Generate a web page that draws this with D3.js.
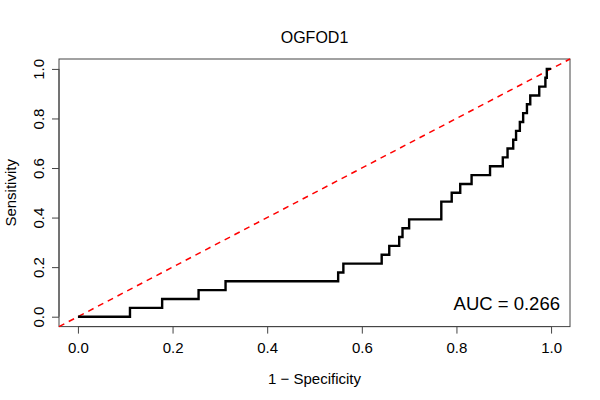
<!DOCTYPE html>
<html>
<head>
<meta charset="utf-8">
<script src="https://cdn.jsdelivr.net/npm/d3@7"></script>
<style>
  body { margin: 0; background: #fff; }
  svg text { font-family: "Liberation Sans", Arial, Helvetica, sans-serif; fill: #000; }
</style>
</head>
<body>
<script>
//-----------------Data----------------

// points where the curve steps up (1 - specificity, sensitivity), 28 positives
const fpr = [0, 0.110, 0.178, 0.255, 0.312, 0.550, 0.561, 0.642, 0.658, 0.679, 0.686, 0.700, 0.768, 0.790, 0.808, 0.832, 0.871, 0.898, 0.908, 0.920, 0.926, 0.934, 0.941, 0.949, 0.956, 0.975, 0.988, 0.991, 1.0];
const tpr = [0, 1, 2, 3, 4, 5, 6, 7, 8, 9, 10, 11, 13, 14, 15, 16, 17, 18, 19, 20, 21, 22, 23, 24, 25, 26, 27, 28, 28].map((k) => k / 28);
const ticks = [0, 0.2, 0.4, 0.6, 0.8, 1.0];
const title = "OGFOD1";
const aucLabel = "AUC = 0.266";

//-----------------Svg and scales----------------

const width = 600;
const height = 400;
const margin = { top: 59, right: 30, bottom: 73.4, left: 59 };

const svg = d3.select("body").append("svg").attr("width", width).attr("height", height);

const xScale = d3.scaleLinear().domain([-0.04, 1.04]).range([margin.left, width - margin.right]);
const yScale = d3.scaleLinear().domain([-0.04, 1.04]).range([height - margin.bottom, margin.top]);

//-----------------Axes----------------

const xAxis = d3.axisBottom(xScale).tickValues(ticks).tickFormat(d3.format(".1f")).tickSize(7).tickPadding(9);
const gx = svg
  .append("g")
  .attr("transform", "translate(0," + (height - margin.bottom) + ")")
  .call(xAxis);
gx.select(".domain").attr("d", "M" + xScale(0) + ",0H" + xScale(1));

const yAxis = d3.axisLeft(yScale).tickValues(ticks).tickFormat(d3.format(".1f")).tickSize(7);
const gy = svg
  .append("g")
  .attr("transform", "translate(" + margin.left + ",0)")
  .call(yAxis);
gy.select(".domain").attr("d", "M0," + yScale(0) + "V" + yScale(1));
gy.selectAll(".tick text")
  .attr("transform", "rotate(-90)")
  .attr("x", 0)
  .attr("y", -15.5)
  .attr("dy", 0)
  .style("text-anchor", "middle");

svg.selectAll(".domain, .tick line").attr("stroke", "#444");
svg.selectAll(".tick text").style("font-size", "15px").style("fill", "#000");

// plot box
svg
  .append("rect")
  .attr("x", margin.left)
  .attr("y", margin.top)
  .attr("width", width - margin.left - margin.right)
  .attr("height", height - margin.top - margin.bottom)
  .attr("fill", "none")
  .attr("stroke", "#444");

//-----------------Labels----------------

svg
  .append("text")
  .text(title)
  .attr("x", (margin.left + width - margin.right) / 2)
  .attr("y", 43)
  .style("text-anchor", "middle")
  .style("font-size", "16px");

svg
  .append("text")
  .text("1 \u2212 Specificity")
  .attr("x", (margin.left + width - margin.right) / 2)
  .attr("y", 384)
  .style("text-anchor", "middle")
  .style("font-size", "15px");

svg
  .append("text")
  .text("Sensitivity")
  .attr("transform", "translate(16," + (margin.top + height - margin.bottom) / 2 + ") rotate(-90)")
  .style("text-anchor", "middle")
  .style("font-size", "15px");

//-----------------Diagonal and curve----------------

svg
  .append("line")
  .attr("x1", xScale(-0.04))
  .attr("y1", yScale(-0.04))
  .attr("x2", xScale(1.04))
  .attr("y2", yScale(1.04))
  .attr("stroke", "#ff0000")
  .attr("stroke-width", 1.5)
  .attr("stroke-dasharray", "6,5");

const points = fpr.map((x, i) => [x, tpr[i]]);
const line = d3
  .line()
  .x((d) => xScale(d[0]))
  .y((d) => yScale(d[1]))
  .curve(d3.curveStepAfter);

svg
  .append("path")
  .datum(points)
  .attr("d", line)
  .attr("fill", "none")
  .attr("stroke", "#000")
  .attr("stroke-width", 2.4);

svg
  .append("text")
  .text(aucLabel)
  .attr("x", 560)
  .attr("y", 310)
  .style("text-anchor", "end")
  .style("font-size", "18.5px");
</script>
</body>
</html>
